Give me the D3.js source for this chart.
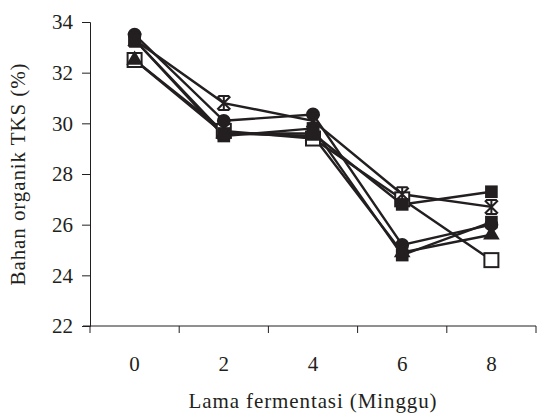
<!DOCTYPE html>
<html>
<head>
<meta charset="utf-8">
<script src="https://cdn.jsdelivr.net/npm/d3@7"></script>
<style>
  body { margin: 0; background: #fff; }
  svg { display: block; }
</style>
</head>
<body>
<div class="container"></div>
<script>
// data
const weeks = ["0", "2", "4", "6", "8"];
const yTicks = [22, 24, 26, 28, 30, 32, 34];
const openSquare = [32.5, 29.7, 29.4, 27.0, 24.6];
const filledSquareA = [33.3, 29.6, 29.6, 26.8, 27.3];
const starSeries = [33.3, 30.8, 30.1, 27.2, 26.7];
const circleSeries = [33.5, 30.1, 30.35, 25.2, 26.0];
const filledSquareB = [33.3, 29.5, 29.8, 24.8, 26.1];
const triangleSeries = [32.5, 29.6, 29.5, 24.9, 25.6];

const series = [
  { name: "openSquare", values: openSquare, marker: "openSquare" },
  { name: "circle", values: circleSeries, marker: "circle" },
  { name: "squareB", values: filledSquareB, marker: "square" },
  { name: "triangle", values: triangleSeries, marker: "triangle" },
  { name: "star", values: starSeries, marker: "star" },
  { name: "squareA", values: filledSquareA, marker: "square" }
];

const width = 538, height = 416;
const margin = { left: 90, right: 2, top: 22, bottom: 90 };
const ink = "#231f20";
const font = "'Liberation Serif', serif";
const fs = 21;

const svg = d3.select(".container").append("svg")
  .attr("width", width)
  .attr("height", height)
  .attr("font-family", font);

const x = d3.scaleBand().domain(weeks).range([margin.left, width - margin.right]);
const y = d3.scaleLinear().domain([22, 34]).range([height - margin.bottom, margin.top]);

// x axis: ticks on band edges
const xg = svg.append("g").attr("transform", `translate(0,${y(22)})`);
xg.append("line")
  .attr("x1", margin.left - 7).attr("x2", width - margin.right)
  .attr("stroke", ink).attr("stroke-width", 1);
const edges = weeks.map(d => x(d)).concat([x(weeks[weeks.length - 1]) + x.bandwidth()]);
xg.selectAll("line.tk").data(edges).join("line")
  .attr("class", "tk")
  .attr("x1", d => d).attr("x2", d => d)
  .attr("y1", 0).attr("y2", 7)
  .attr("stroke", ink);
xg.selectAll("text").data(weeks).join("text")
  .attr("x", d => x(d) + x.bandwidth() / 2)
  .attr("y", 45)
  .attr("text-anchor", "middle")
  .attr("font-size", fs)
  .attr("fill", ink)
  .text(d => d);

// y axis
const yAxis = d3.axisLeft(y).tickValues(yTicks).tickSize(8).tickPadding(9);
const yg = svg.append("g").attr("transform", `translate(${margin.left},0)`).call(yAxis);
yg.select(".domain").attr("stroke", ink);
yg.selectAll(".tick line").attr("stroke", ink);
yg.selectAll(".tick text")
  .attr("font-size", fs)
  .attr("font-family", font)
  .attr("fill", ink);

// axis titles
svg.append("text")
  .attr("x", (margin.left + width - margin.right) / 2)
  .attr("y", 408)
  .attr("text-anchor", "middle")
  .attr("font-size", fs)
  .attr("letter-spacing", 0.9)
  .attr("fill", ink)
  .text("Lama fermentasi (Minggu)");

svg.append("text")
  .attr("transform", `translate(25,${(y(22) + y(34)) / 2}) rotate(-90)`)
  .attr("text-anchor", "middle")
  .attr("font-size", fs)
  .attr("letter-spacing", 0.9)
  .attr("fill", ink)
  .text("Bahan organik TKS (%)");

const cx = d => x(d) + x.bandwidth() / 2;
const line = d3.line().x((v, i) => cx(weeks[i])).y(v => y(v));

const plot = svg.append("g");
plot.selectAll("path.ln").data(series).join("path")
  .attr("class", "ln")
  .attr("d", d => line(d.values))
  .attr("fill", "none")
  .attr("stroke", ink)
  .attr("stroke-width", 2.4);

const sym = {
  circle: d3.symbol(d3.symbolCircle, 150)(),
  square: d3.symbol(d3.symbolSquare, 160)(),
  triangle: d3.symbol(d3.symbolTriangle, 120)()
};

series.forEach(s => {
  const g = plot.append("g");
  const pts = g.selectAll("g").data(s.values).join("g")
    .attr("transform", (v, i) => `translate(${cx(weeks[i])},${y(v)})`);
  if (s.marker === "openSquare") {
    pts.append("rect")
      .attr("x", -7).attr("y", -7).attr("width", 14).attr("height", 14)
      .attr("fill", "#fff").attr("stroke", ink).attr("stroke-width", 2);
  } else if (s.marker === "star") {
    pts.append("path")
      .attr("d", "M-6.5,-6.5L6.5,6.5M6.5,-6.5L-6.5,6.5M0,-7.5L0,7.5M-5.5,-7L5.5,-7M-5.5,7L5.5,7")
      .attr("fill", "none").attr("stroke", ink).attr("stroke-width", 2);
  } else {
    pts.append("path").attr("d", sym[s.marker]).attr("fill", ink);
  }
});
</script>
</body>
</html>
